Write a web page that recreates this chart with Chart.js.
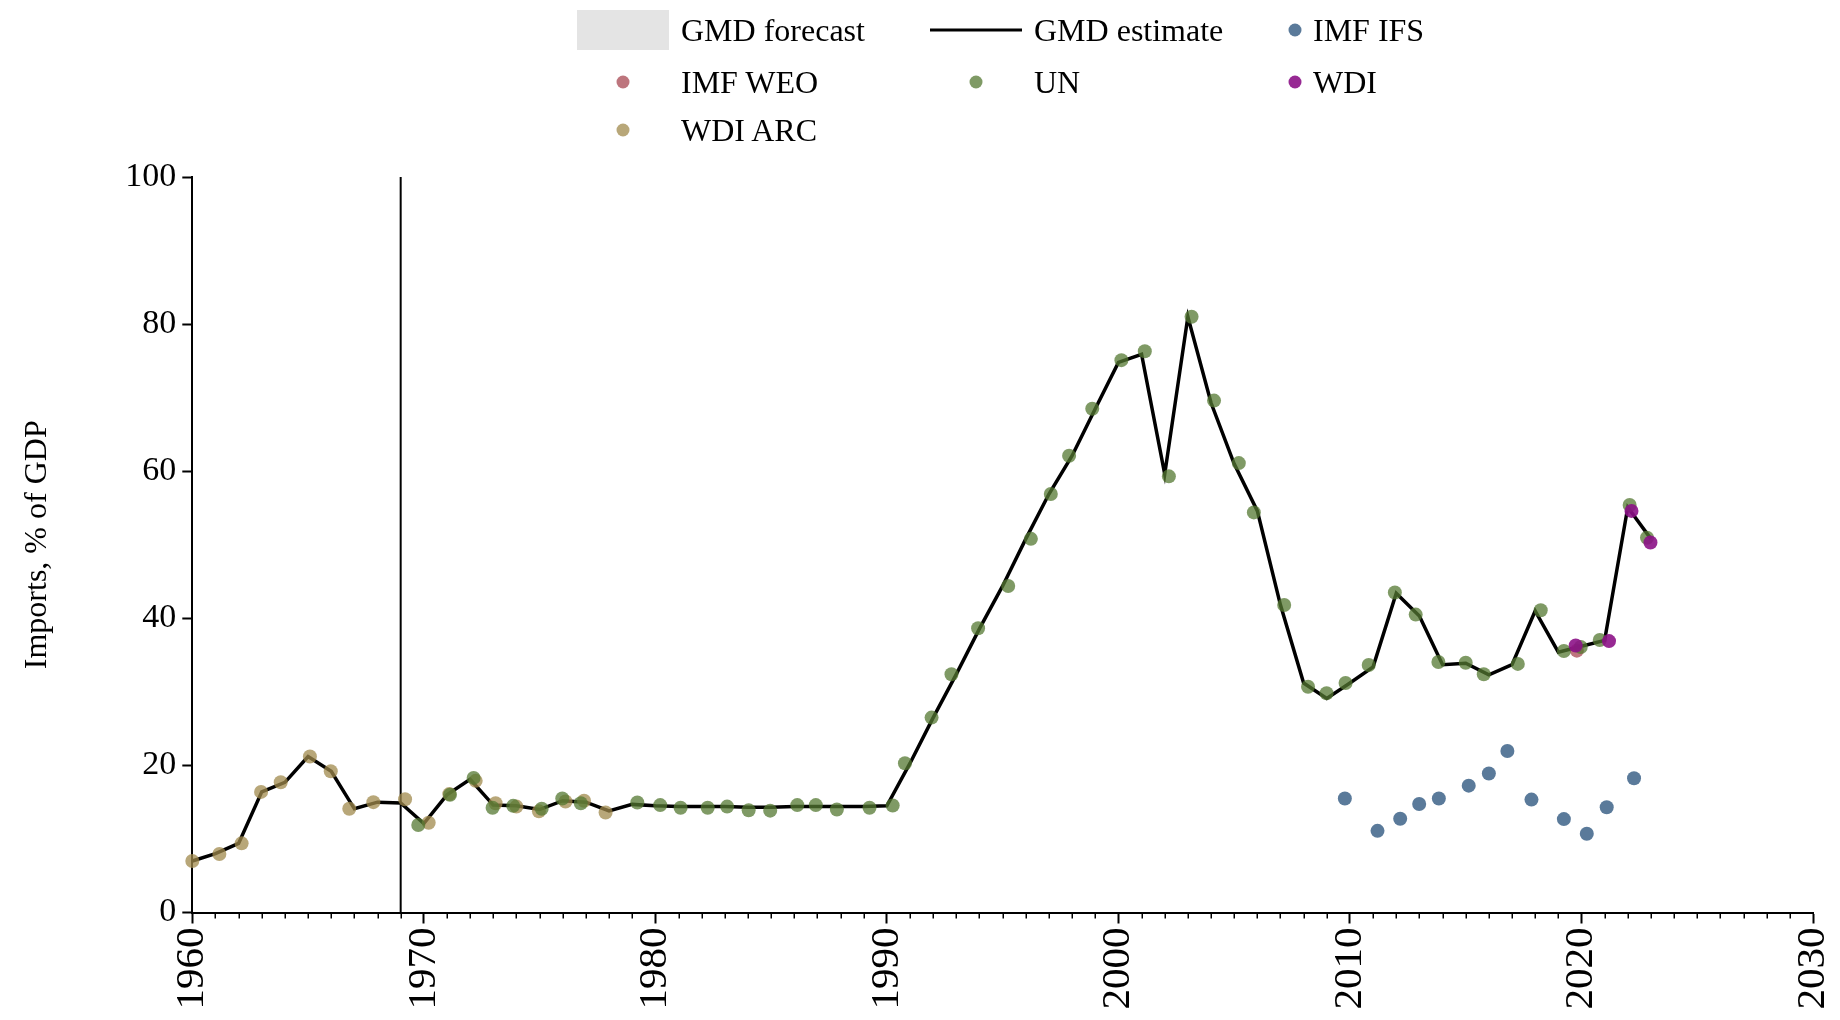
<!DOCTYPE html>
<html>
<head>
<meta charset="utf-8">
<script src="https://cdn.jsdelivr.net/npm/chart.js@4.4.1/dist/chart.umd.min.js"></script>
<style>
  html, body { margin: 0; padding: 0; background: #ffffff; }
  #wrap { position: relative; width: 1840px; height: 1020px; overflow: hidden; }
  #c { position: absolute; left: 0; top: 0; }
  .lgText { position: absolute; font-family: "Liberation Serif", "Times New Roman", serif; font-size: 32px; line-height: 1; color: #000; white-space: nowrap; transform: translateY(-50%); }
  .lgDot { position: absolute; width: 13px; height: 13px; border-radius: 50%; transform: translate(-50%, -50%); }
  .lgLine { position: absolute; height: 3px; background: #000; transform: translateY(-50%); }
  .lgBox { position: absolute; background: #e4e4e4; transform: translateY(-50%); }
</style>
</head>
<body>
<div id="wrap">
  <canvas id="c" width="1840" height="1020"></canvas>
  <div id="legend"></div>
</div>
<script>
// ---------------- DATA ----------------
const gmdYears = [1960,1961,1962,1963,1964,1965,1966,1967,1968,1969,
                  1970,1971,1972,1973,1974,1975,1976,1977,1978,1979,
                  1980,1981,1982,1983,1984,1985,1986,1987,1988,1989,
                  1990,1991,1992,1993,1994,1995,1996,1997,1998,1999,
                  2000,2001,2002,2003,2004,2005,2006,2007,2008,2009,
                  2010,2011,2012,2013,2014,2015,2016,2017,2018,2019,
                  2020,2021,2022,2023];
const gmdEstimate = [7.0,8.0,9.4,16.4,17.7,21.2,19.2,14.1,15.0,14.9,
                     12.1,16.0,18.1,14.6,14.5,14.0,15.2,15.0,13.8,14.7,
                     14.5,14.4,14.4,14.4,14.3,14.3,14.4,14.4,14.4,14.4,
                     14.5,20.3,26.5,32.4,38.6,44.4,50.8,56.9,62.1,68.5,
                     74.8,75.9,59.6,81.0,69.3,61.0,54.6,41.8,31.2,29.1,
                     31.2,33.4,43.4,40.3,33.7,33.9,32.3,33.7,41.0,35.4,
                     36.2,37.0,55.1,50.8];

// source observations (x positions are horizontally jittered years as plotted)
const imfIfsX = [2009.78,2011.19,2012.17,2012.99,2013.84,2015.13,2016.0,2016.8,2017.84,2019.24,2020.23,2021.09,2022.27];
const imfIfsY = [15.5,11.1,12.75,14.75,15.5,17.25,18.9,21.95,15.35,12.7,10.7,14.3,18.25];

const imfWeoX = [2019.8];
const imfWeoY = [35.6];

const unX = [1969.76,1971.13,1972.15,1972.97,1973.86,1975.09,1975.98,1976.78,1979.22,1980.21,
             1981.09,1982.26,1983.10,1984.03,1984.96,1986.13,1986.93,1987.84,1989.25,1990.25,
             1990.78,1991.93,1992.79,1993.94,1995.24,1996.22,1997.08,1997.87,1998.87,2000.13,
             2001.14,2002.18,2003.16,2004.13,2005.20,2005.85,2007.16,2008.19,2008.99,2009.81,
             2010.81,2011.94,2012.84,2013.82,2015.00,2015.78,2017.25,2018.24,2019.24,2019.97,
             2020.79,2022.08,2022.83];
const unY = [11.9,16.0,18.3,14.25,14.5,14.1,15.5,14.85,14.95,14.6,
             14.25,14.25,14.4,13.9,13.85,14.6,14.6,14.0,14.25,14.55,
             20.3,26.5,32.4,38.65,44.4,50.8,56.9,62.1,68.5,75.1,
             76.3,59.3,81.0,69.6,61.1,54.4,41.8,30.7,29.8,31.2,
             33.65,43.5,40.5,34.05,33.95,32.4,33.8,41.1,35.55,36.1,
             37.05,55.4,50.95];

const wdiX = [2019.75,2021.19,2022.16,2022.98];
const wdiY = [36.3,36.9,54.6,50.3];

const wdiArcX = [1960.0,1961.17,1962.13,1962.97,1963.82,1965.08,1965.98,1966.78,1967.82,1969.19,
                 1970.21,1971.10,1972.24,1973.10,1974.00,1974.97,1976.12,1976.92,1977.85];
const wdiArcY = [7.0,7.95,9.4,16.4,17.7,21.2,19.2,14.1,15.0,15.4,
                 12.2,16.1,17.9,14.85,14.4,13.75,15.1,15.2,13.6];

const markerYear = 1969;           // vertical reference line
const xTickLabels = [1960,1970,1980,1990,2000,2010,2020,2030];
const yTickLabels = [0,20,40,60,80,100];
const yAxisTitle = 'Imports, % of GDP';
const forecastLabel = 'GMD forecast';

// ---------------- STYLE ----------------
const colors = {
  ifs: 'rgba(72,107,143,0.9)',
  weo: 'rgba(172,82,92,0.8)',
  un: 'rgba(84,120,50,0.75)',
  wdi: 'rgba(140,18,135,0.9)',
  arc: 'rgba(160,138,76,0.75)'
};
const SERIF = '"Liberation Serif", "Times New Roman", serif';

const pts = (xs, ys) => xs.map((x, i) => ({ x: x, y: ys[i] }));

function scatterSet(label, xs, ys, color, order) {
  return {
    type: 'scatter', label: label, data: pts(xs, ys),
    backgroundColor: color, borderWidth: 0, pointRadius: 7, pointHoverRadius: 7,
    order: order, clip: false
  };
}

const datasets = [
  scatterSet('WDI', wdiX, wdiY, colors.wdi, 1),
  scatterSet('IMF IFS', imfIfsX, imfIfsY, colors.ifs, 2),
  scatterSet('UN', unX, unY, colors.un, 3),
  scatterSet('IMF WEO', imfWeoX, imfWeoY, colors.weo, 4),
  scatterSet('WDI ARC', wdiArcX, wdiArcY, colors.arc, 5),
  {
    type: 'line', label: 'GMD estimate', data: pts(gmdYears, gmdEstimate),
    borderColor: '#000', borderWidth: 3.5, pointRadius: 0, tension: 0, fill: false,
    order: 6, clip: false, borderJoinStyle: 'miter'
  },
  {
    type: 'line', label: '_marker', data: [{ x: markerYear, y: yTickLabels[0] }, { x: markerYear, y: yTickLabels[yTickLabels.length - 1] }],
    borderColor: '#000', borderWidth: 2, pointRadius: 0, order: 7, clip: false
  }
];

const minorTicks = {
  id: 'minorTicks',
  afterDraw(chart) {
    const xs = chart.scales.x, ctx = chart.ctx, y0 = chart.chartArea.bottom;
    ctx.save();
    ctx.strokeStyle = '#000';
    ctx.lineWidth = 1.5;
    for (let v = xTickLabels[0]; v <= xTickLabels[xTickLabels.length - 1]; v++) {
      if (xTickLabels.includes(v)) continue;
      const px = Math.round(xs.getPixelForValue(v)) + 0.25;
      ctx.beginPath();
      ctx.moveTo(px, y0);
      ctx.lineTo(px, y0 + 6);
      ctx.stroke();
    }
    ctx.restore();
  }
};

const chart = new Chart(document.getElementById('c').getContext('2d'), {
  type: 'scatter',
  data: { datasets: datasets },
  options: {
    responsive: false,
    animation: false,
    devicePixelRatio: 1,
    layout: { padding: { top: 177, right: 27, left: 0, bottom: 0 } },
    plugins: { legend: { display: false }, tooltip: { enabled: false } },
    scales: {
      x: {
        type: 'linear',
        min: xTickLabels[0], max: xTickLabels[xTickLabels.length - 1],
        afterFit(s) { s.height = 107.5; s.paddingLeft = 0; s.paddingRight = 0; },
        border: { color: '#000', width: 2 },
        grid: { drawOnChartArea: false, drawTicks: true, tickLength: 11, tickColor: '#000', tickWidth: 2 },
        ticks: {
          stepSize: 10, autoSkip: false, maxRotation: 90, minRotation: 90, padding: 4,
          color: '#000', font: { family: SERIF, size: 41 },
          callback: (v) => (xTickLabels.includes(v) ? String(v) : '')
        }
      },
      y: {
        type: 'linear',
        min: yTickLabels[0], max: yTickLabels[yTickLabels.length - 1],
        afterFit(s) { s.width = 192.3; s.paddingTop = 0; s.paddingBottom = 0; },
        border: { color: '#000', width: 2 },
        grid: { drawOnChartArea: false, drawTicks: true, tickLength: 10, tickColor: '#000', tickWidth: 2 },
        ticks: {
          stepSize: 20, padding: 6, color: '#000', font: { family: SERIF, size: 34 },
          callback: (v) => String(v)
        },
        title: {
          display: true, text: yAxisTitle, color: '#000',
          font: { family: SERIF, size: 32 }, padding: { top: 18, bottom: 0 }
        }
      }
    }
  },
  plugins: [minorTicks]
});

// ---------------- LEGEND (HTML, from dataset labels/colours) ----------------
const legendCols = [{ mark: 623, text: 681 }, { mark: 976, text: 1034 }, { mark: 1295, text: 1313 }];
const legendRows = [30, 82, 130];
const byLabel = {};
chart.data.datasets.forEach(d => { byLabel[d.label] = d; });
const legendOrder = [forecastLabel, 'GMD estimate', 'IMF IFS', 'IMF WEO', 'UN', 'WDI', 'WDI ARC'];
const lg = document.getElementById('legend');
legendOrder.forEach((label, i) => {
  const col = legendCols[i % 3], y = legendRows[Math.floor(i / 3)];
  let m = document.createElement('div');
  if (label === forecastLabel) {
    m.className = 'lgBox';
    m.style.left = '577px'; m.style.width = '92px'; m.style.height = '40px'; m.style.top = y + 'px';
  } else if (label === 'GMD estimate') {
    m.className = 'lgLine';
    m.style.left = '930px'; m.style.width = '92px'; m.style.top = y + 'px';
  } else {
    m.className = 'lgDot';
    m.style.left = col.mark + 'px'; m.style.top = y + 'px';
    m.style.background = byLabel[label].backgroundColor;
  }
  lg.appendChild(m);
  const t = document.createElement('div');
  t.className = 'lgText';
  t.style.left = col.text + 'px'; t.style.top = y + 'px';
  t.textContent = label;
  lg.appendChild(t);
});
</script>
</body>
</html>
